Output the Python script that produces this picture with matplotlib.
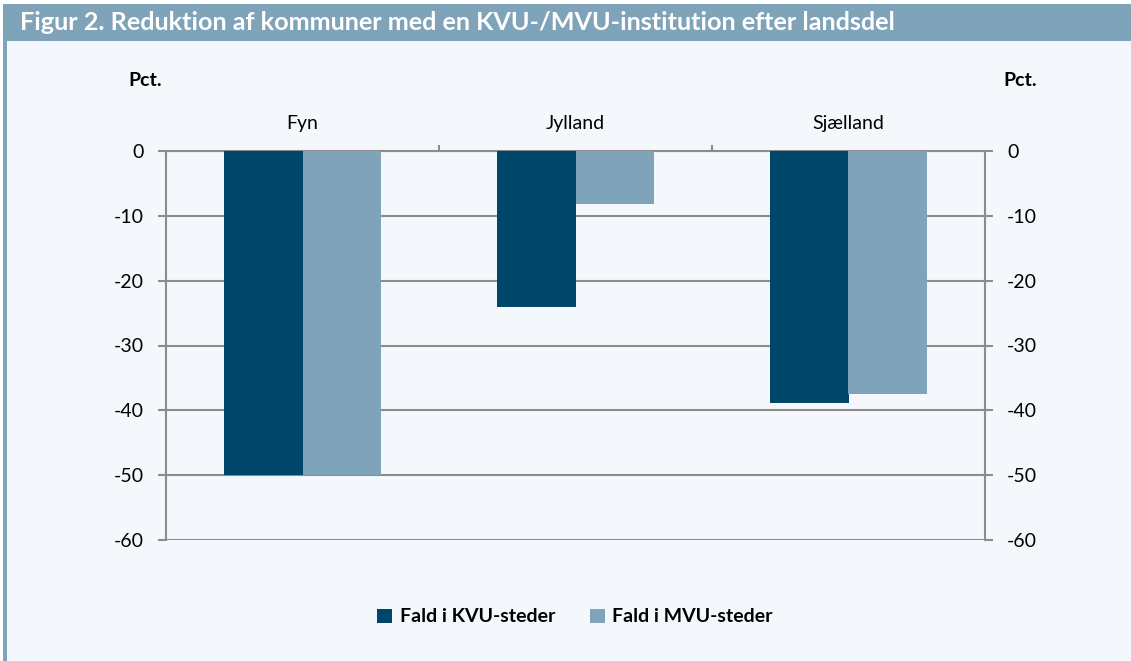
import matplotlib.pyplot as plt
import numpy as np
from matplotlib.patches import Rectangle

plt.rcParams['font.family'] = ['Lato', 'DejaVu Sans']

# Data
regions = ['Fyn', 'Jylland', 'Sjælland']
kvu = [-50, -24, -38.9]
mvu = [-50, -8.2, -37.5]
series_names = ['Fald i KVU-steder', 'Fald i MVU-steder']
yticks = [0, -10, -20, -30, -40, -50, -60]

dark = '#00466b'
light = '#7fa3b8'
bg = '#f4f8fc'
grid = '#8c8c8c'

W, H = 1131, 661
fig = plt.figure(figsize=(W / 100, H / 100), dpi=100)
fig.patch.set_facecolor('white')

# background panel, title bar and left strip (behind the axes)
for rect in [((7 / W, 0), 1 - 7 / W, 1 - 41 / H, bg),
             ((3 / W, 1 - 41 / H), 1 - 3 / W, 37 / H, light),
             ((3 / W, 0), 4 / W, 1 - 41 / H, light)]:
    fig.add_artist(Rectangle(rect[0], rect[1], rect[2], transform=fig.transFigure,
                             facecolor=rect[3], edgecolor='none', zorder=-5))
fig.text(20 / W, 1 - 23 / H, 'Figur 2. Reduktion af kommuner med en KVU-/MVU-institution efter landsdel',
         color='white', fontsize=18.2, fontweight='bold', va='center', ha='left')

ax = fig.add_axes([166 / W, 1 - 540 / H, (985 - 166) / W, (540 - 151) / H])
ax.set_facecolor(bg)

x = np.arange(len(regions))
w = 0.286
ax.bar(x - w / 2, kvu, w, color=dark, label=series_names[0], zorder=3)
ax.bar(x + w / 2, mvu, w, color=light, label=series_names[1], zorder=3)

ax.set_xlim(-0.5, 2.5)
ax.set_ylim(-60, 0)
ax.set_yticks(yticks)
ax.set_yticklabels([str(v) for v in yticks])
ax.yaxis.grid(True, color=grid, linewidth=1.5, zorder=1)
ax.tick_params(axis='y', which='both', right=True, labelright=True, labelsize=14,
               color=grid, length=6, width=1.5, pad=10)

ax.xaxis.tick_top()
ax.set_xticks(x)
ax.set_xticklabels(regions, fontsize=14)
ax.tick_params(axis='x', which='major', length=0, pad=14)
ax.set_xticks([0.5, 1.5], minor=True)
ax.tick_params(axis='x', which='minor', top=True, length=4, width=1.5, color=grid, direction='out')

for side in ['left', 'right', 'top', 'bottom']:
    ax.spines[side].set_color(grid)
    ax.spines[side].set_linewidth(1.5)
ax.spines['bottom'].set_visible(False)

fig.text(145 / W, 1 - 80 / H, 'Pct.', fontsize=14, fontweight='bold', ha='center', va='center')
fig.text(1020 / W, 1 - 80 / H, 'Pct.', fontsize=14, fontweight='bold', ha='center', va='center')

fig.legend(loc='center', bbox_to_anchor=(575 / W, 1 - 617 / H), ncol=2, frameon=False,
           prop={'weight': 'bold', 'size': 14}, handlelength=0.75, handleheight=0.75,
           handletextpad=0.4, columnspacing=1.8)

plt.savefig('out.png', dpi=100, facecolor=fig.get_facecolor())
